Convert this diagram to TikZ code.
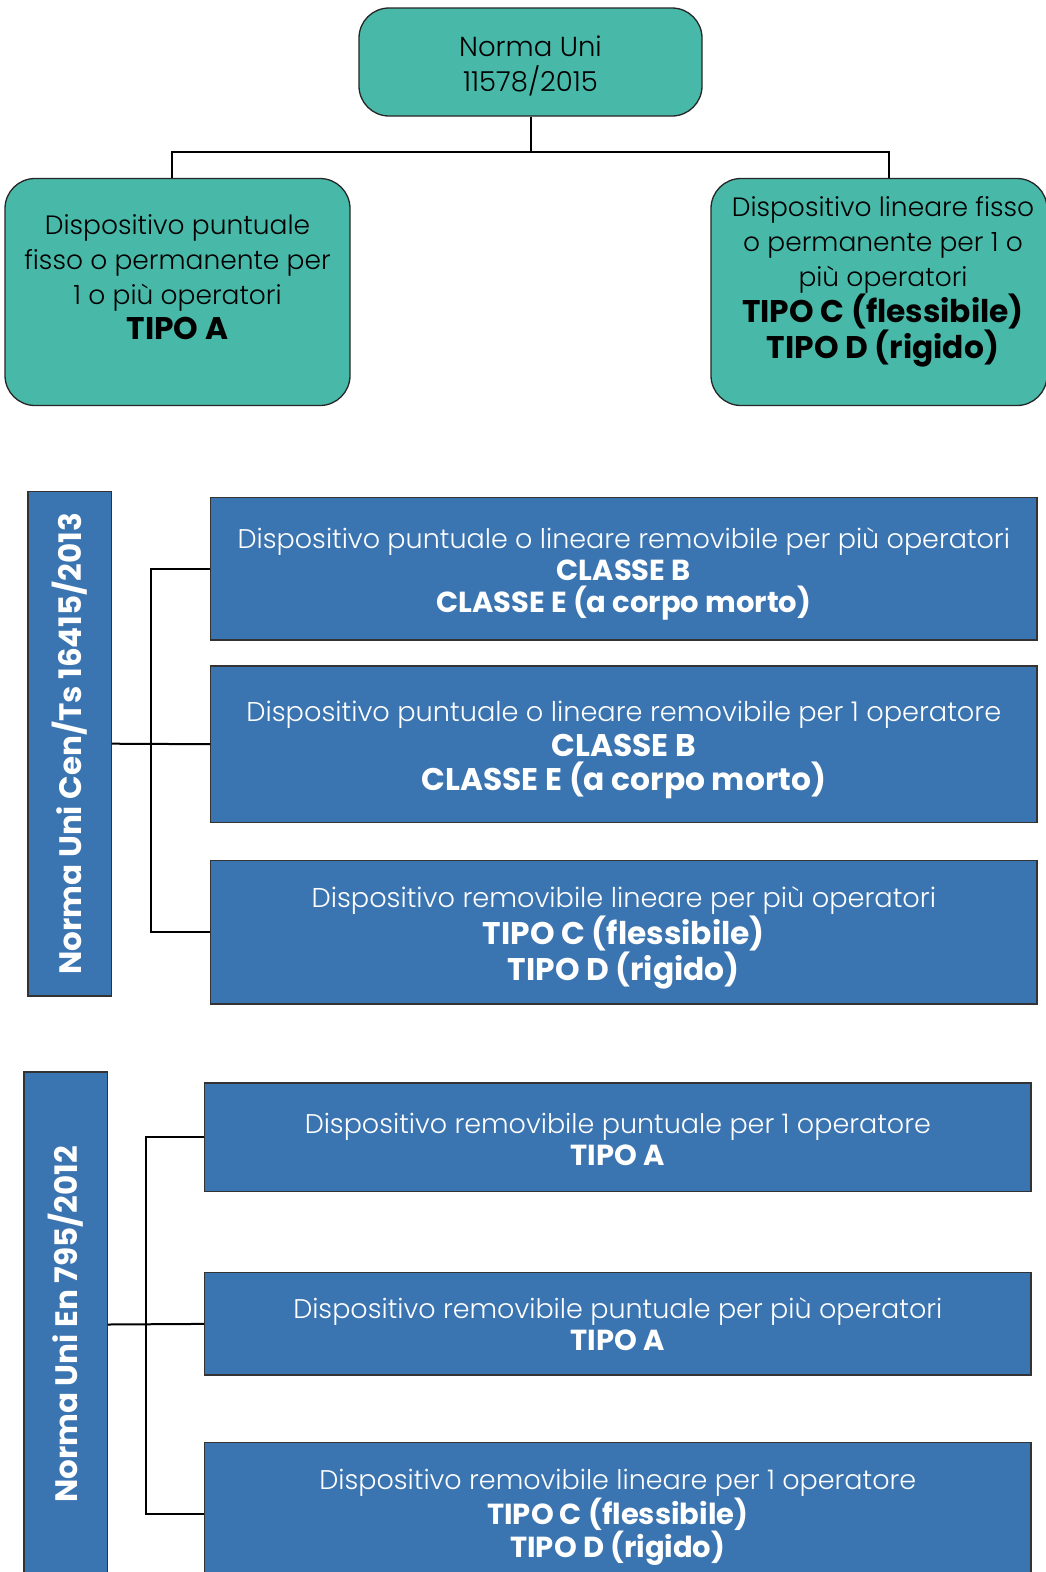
\documentclass[tikz,border=0pt]{standalone}
\usepackage{fontspec}
\setmainfont{Poppins}[UprightFont=* Light, BoldFont=* Bold]
\definecolor{tealfill}{HTML}{48B8A8}
\definecolor{bluefill}{HTML}{3B75B1}
\newcommand\bigb[1]{{\fontsize{31.3}{34.5}\selectfont\bfseries #1}}
\newcommand\smallb[1]{{\fontsize{29}{32}\selectfont\bfseries #1}}
\begin{document}
\begin{tikzpicture}[x=1pt,y=-1pt,
  tealbox/.style={draw=black!85, line width=1.3pt, fill=tealfill, rounded corners=30pt, inner sep=0pt},
  bluebox/.style={draw=black!80, line width=1.2pt, fill=bluefill, inner sep=0pt},
  ttxt/.style={align=center, text=black, font=\fontsize{26.5}{35}\selectfont},
  btxt/.style={align=center, text=white, font=\fontsize{27.2}{34.5}\selectfont},
  stxt/.style={align=center, text=white, font=\fontsize{27}{32}\selectfont},
  vtxt/.style={rotate=90, text=white, font=\bfseries\fontsize{31}{34}\selectfont},
  conn/.style={line width=2pt, black}]
\useasboundingbox (0,0) rectangle (1046,1572);

% top section
\node[tealbox, minimum width=343, minimum height=108] (top) at (530.5,62) {};
\node[ttxt, font=\fontsize{27.5}{35}\selectfont] (toptxt) at (530.5,66) {Norma Uni\\11578/2015};
\node[tealbox, minimum width=345, minimum height=227] (L) at (177.5,292) {};
\node[ttxt] (Ltxt) at (177.5,277.5) {Dispositivo puntuale\\fisso o permanente per\\1 o più operatori\\\bigb{TIPO A}};
\node[tealbox, minimum width=336, minimum height=227] (R) at (879,292) {};
\node[ttxt] (Rtxt) at (883,282) {Dispositivo lineare fisso\\o permanente per 1 o\\più operatori\\\bigb{TIPO C (flessibile)}\\\bigb{TIPO D (rigido)}};
\coordinate (jl) at (172,151.5);
\coordinate (jr) at (889,151.5);
\draw[conn] (top.south) |- (jl) -- (jl |- L.north);
\draw[conn] (top.south) |- (jr) -- (jr |- R.north);

% section 1
\node[bluebox, minimum width=83.3, minimum height=504.5] (N1) at (69.7,743.7) {};
\node[vtxt] (N1txt) at (69.7,743.7) {Norma Uni Cen/Ts 16415/2013};
\node[bluebox, minimum width=826.4, minimum height=142.4] (B1) at (623.8,568.7) {};
\node[stxt] (B1txt) at (623.8,574) {Dispositivo puntuale o lineare removibile per più operatori\\\smallb{CLASSE B}\\\smallb{CLASSE E (a corpo morto)}};
\node[bluebox, minimum width=826.4, minimum height=156.5] (B2) at (623.8,744.2) {};
\node[btxt] (B2txt) at (623.8,750) {Dispositivo puntuale o lineare removibile per 1 operatore\\\bigb{CLASSE B}\\\bigb{CLASSE E (a corpo morto)}};
\node[bluebox, minimum width=826.4, minimum height=143.5] (B3) at (623.8,932.3) {};
\node[btxt] (B3txt) at (623.8,938) {Dispositivo removibile lineare per più operatori\\\bigb{TIPO C (flessibile)}\\\bigb{TIPO D (rigido)}};
\coordinate (t1) at (150.5,0);
\draw[conn] (N1.east) -- (B2.west);
\draw[conn] (B1.west) -- (B1.west -| t1) -- (B3.west -| t1) -- (B3.west);

% section 2
\node[bluebox, minimum width=83.3, minimum height=505] (N2) at (65.7,1324.5) {};
\node[vtxt] (N2txt) at (65.7,1324.5) {Norma Uni En 795/2012};
\node[bluebox, minimum width=826.4, minimum height=108.5] (C1) at (617.8,1137.3) {};
\node[stxt] (C1txt) at (617.8,1139.5) {Dispositivo removibile puntuale per 1 operatore\\\smallb{TIPO A}};
\node[bluebox, minimum width=826.4, minimum height=102.3] (C2) at (617.8,1323.9) {};
\node[stxt] (C2txt) at (617.8,1324.5) {Dispositivo removibile puntuale per più operatori\\\smallb{TIPO A}};
\node[bluebox, minimum width=826.4, minimum height=142.7] (C3) at (617.8,1513.6) {};
\node[stxt] (C3txt) at (617.8,1517.5) {Dispositivo removibile lineare per 1 operatore\\\smallb{TIPO C (flessibile)}\\\smallb{TIPO D (rigido)}};
\coordinate (t2) at (146.4,0);
\draw[conn] (N2.east) -- (C2.west);
\draw[conn] (C1.west) -- (C1.west -| t2) -- (C3.west -| t2) -- (C3.west);
\end{tikzpicture}
\end{document}
